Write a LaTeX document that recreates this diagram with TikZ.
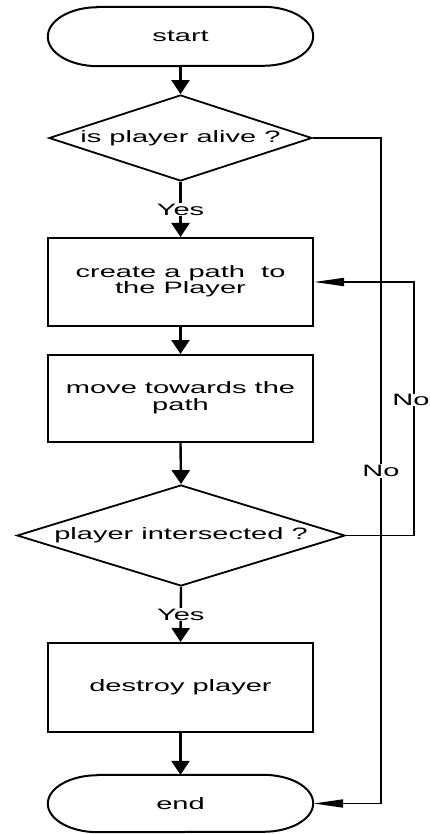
\documentclass[tikz,border=0pt]{standalone}
\usepackage{graphicx}
\usepackage{fontspec}
\setmainfont{Liberation Sans}
\usetikzlibrary{shapes.geometric,arrows.meta,calc}

% wide lettering used throughout the chart
\newcommand\widetext[1]{\scalebox{1.76}[1]{#1}}
\newcommand\twolines[2]{\widetext{\begin{tabular}{@{}c@{}}#1\\#2\end{tabular}}}

\begin{document}
\begin{tikzpicture}[x=1pt,y=-1pt,
  every node/.style={font=\fontsize{16.5}{16}\selectfont, text=black},
  box/.style={draw, line width=2pt, minimum width=265pt, inner sep=0pt},
  term/.style={minimum width=265pt, inner sep=0pt},
  decision/.style={draw, diamond, line width=1.8pt, inner sep=0pt},
  flow/.style={line width=2.4pt, -{Triangle[length=14pt,width=18pt]}},
  side/.style={line width=1.8pt, -{Triangle[length=30pt,width=8pt]}},
  tag/.style={fill=white, inner sep=1pt}]
\useasboundingbox (0,0) rectangle (430,834);

% terminals (elliptic-ended); y axis points down, hence the arc angles
\node[term, minimum height=59pt] (start) at (180.5,36.5) {\widetext{start}};
\draw[line width=2pt]
  ($(start.north west)+(50,0)$) -- ($(start.north east)+(-50,0)$)
  arc[start angle=-90, end angle=90, x radius=50, y radius=29.5]
  -- ($(start.south west)+(50,0)$)
  arc[start angle=90, end angle=270, x radius=50, y radius=29.5] -- cycle;

\node[term, minimum height=57pt] (end) at (180.5,803.5) {\widetext{end}};
\draw[line width=2pt]
  ($(end.north west)+(50,0)$) -- ($(end.north east)+(-50,0)$)
  arc[start angle=-90, end angle=90, x radius=50, y radius=28.5]
  -- ($(end.south west)+(50,0)$)
  arc[start angle=90, end angle=270, x radius=50, y radius=28.5] -- cycle;

% decisions
\node[decision, minimum width=263pt, minimum height=86pt, aspect=3.06]
  (alive) at (180.5,138) {\widetext{is player alive ?}};
\node[decision, minimum width=328pt, minimum height=101pt, aspect=3.25]
  (hit) at (181,535.5) {\widetext{player intersected ?}};

% process steps
\node[box, minimum height=88pt] (path) at (180.5,282)
  {\twolines{create a path\ \ to}{the Player}};
\node[box, minimum height=87pt] (move) at (180.5,398.5)
  {\twolines{move towards the}{path}};
\node[box, minimum height=89pt] (kill) at (180.5,687.5)
  {\widetext{destroy player}};

% main flow
\draw[flow] (start.south) -- (alive.north);
\draw[flow] (alive.south) -- node[tag] {\widetext{Yes}} (path.north);
\draw[flow] (path.south) -- (move.north);
\draw[flow] (move.south) -- (hit.north);
\draw[flow] (hit.south) -- node[tag] {\widetext{Yes}} (kill.north);
\draw[flow] (kill.south) -- (end.north);

% side branches
\coordinate (aliveR) at (381,138);
\coordinate (endR) at (381,803.5);
\draw[side] (alive.east) -- (aliveR) -- node[tag, pos=0.5] {\widetext{No}} (endR) -- (end.east);

\coordinate (hitR) at (414,535.5);
\coordinate (pathR) at (414,282);
\draw[side] (hit.east) -- (hitR) -- node[tag, pos=0.535, xshift=-3pt, inner sep=0.5pt] {\widetext{No}} (pathR) -- (path.east);
\end{tikzpicture}
\end{document}
